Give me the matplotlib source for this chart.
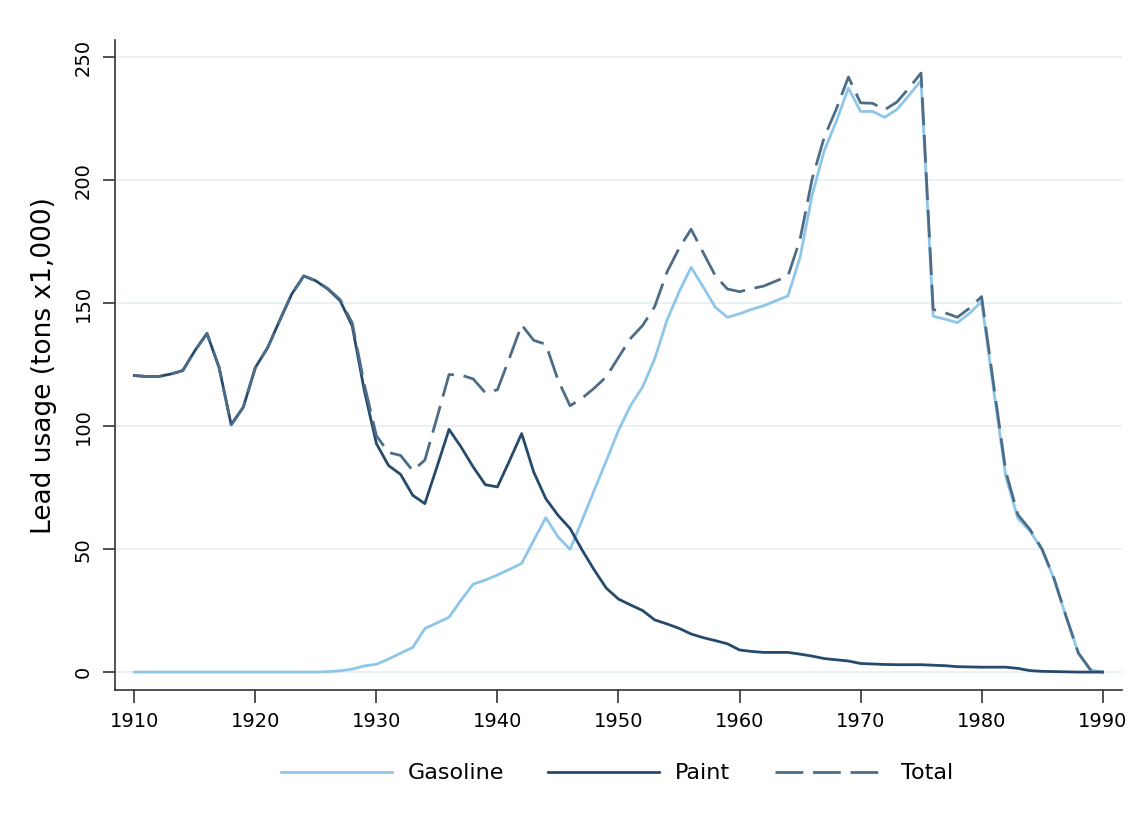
import numpy as np
import matplotlib
matplotlib.use("Agg")
import matplotlib.pyplot as plt

# --- data ---
years = list(range(1910, 1991))

gasoline = [0, 0, 0, 0, 0, 0, 0, 0, 0, 0,
            0, 0, 0, 0, 0, 0, 0.2, 0.5, 1.2, 2.5,
            3.2, 5.3, 7.7, 10, 17.7, 20, 22.3, 29.3, 35.8, 37.4,
            39.5, 41.8, 44.2, 53.6, 62.8, 55, 49.9, 61.8, 74, 86,
            98.3, 108.4, 116, 127.5, 143, 154.5, 164.6, 156.6, 148.4, 144.3,
            145.7, 147.5, 149, 151, 153, 168.6, 194, 212, 224, 237.5,
            228, 228, 225.6, 228.8, 234.5, 240.6, 144.7, 143.5, 142.1, 145.9,
            150.7, 114.7, 79.6, 62.5, 57.4, 49.7, 37.7, 22.3, 7.7, 0.9,
            0]

paint = [120.6, 120.2, 120.2, 121.2, 122.6, 130.7, 137.7, 123.9, 100.6, 107.7,
         123.9, 131.8, 142.9, 153.7, 161.1, 159.1, 155.7, 151, 140.8, 114.5,
         92.9, 84, 80.4, 71.9, 68.5, 83.4, 98.7, 91.5, 83.4, 76.2,
         75.3, 86, 97, 81.3, 70.5, 63.8, 58.4, 49.6, 41.5, 34.1,
         29.7, 27.3, 25, 21.2, 19.6, 17.8, 15.5, 14, 12.8, 11.5,
         9, 8.4, 8, 8, 8, 7.3, 6.5, 5.5, 5, 4.5,
         3.5, 3.3, 3.1, 3, 3, 3, 2.8, 2.6, 2.2, 2.1,
         2, 2, 2, 1.5, 0.6, 0.3, 0.2, 0.1, 0, 0,
         0]

total = [120.6, 120.2, 120.2, 121.2, 122.6, 130.7, 137.7, 123.9, 100.6, 107.7,
         123.9, 131.8, 142.9, 153.7, 161.1, 159.1, 155.9, 151.5, 142, 117,
         96.1, 89.3, 88.1, 81.9, 86.2, 103.4, 121, 120.8, 119.2, 113.6,
         114.8, 127.8, 141.2, 134.9, 133.3, 118.8, 108.3, 111.4, 115.5, 120.1,
         128, 135.7, 141, 148.7, 162.6, 172.3, 180.1, 170.6, 161.2, 155.8,
         154.7, 155.9, 157, 159, 161, 175.9, 200.5, 217.5, 229, 242,
         231.5, 231.3, 228.7, 231.8, 237.5, 243.6, 147.5, 146.1, 144.3, 148,
         152.7, 116.7, 81.6, 64, 58, 50, 37.9, 22.4, 7.7, 0.9,
         0]

x_ticks = [1910, 1920, 1930, 1940, 1950, 1960, 1970, 1980, 1990]
y_ticks = [0, 50, 100, 150, 200, 250]

# --- plot ---
plt.rcParams['font.family'] = ['DejaVu Sans']
fig = plt.figure(figsize=(11.43, 8.36), dpi=100)
ax = fig.add_axes([0.1006, 0.1746, 0.881, 0.7774])

ax.plot(years, gasoline, color="#8ec6ea", lw=2, label="Gasoline", zorder=3)
ax.plot(years, paint, color="#264a6c", lw=2, label="Paint", zorder=3)
ax.plot(years, total, color="#4d6c87", lw=2, ls=(0, (10, 3.5)), label="Total", zorder=4)

ax.set_xlim(1908.4, 1991.6)
ax.set_ylim(-7.3, 257)
ax.set_xticks(x_ticks)
ax.set_yticks(y_ticks)
ax.set_yticklabels([str(v) for v in y_ticks], rotation=90, va="center")
ax.tick_params(axis="both", length=9, width=1.2, color="#333333", labelsize=14, pad=7)
ax.grid(axis="y", color="#e8f0f2", lw=1.3, zorder=0)
ax.set_axisbelow(True)

for side in ["top", "right"]:
    ax.spines[side].set_visible(False)
for side in ["left", "bottom"]:
    ax.spines[side].set_color("#333333")
    ax.spines[side].set_linewidth(1.2)

ax.set_ylabel("Lead usage (tons x1,000)", fontsize=19, labelpad=12)

fig.legend(loc="center", bbox_to_anchor=(0.54, 0.075), ncol=3, frameon=False,
           fontsize=16, handlelength=5, columnspacing=2.0, handletextpad=0.7)

plt.savefig("out.png", dpi=100)
